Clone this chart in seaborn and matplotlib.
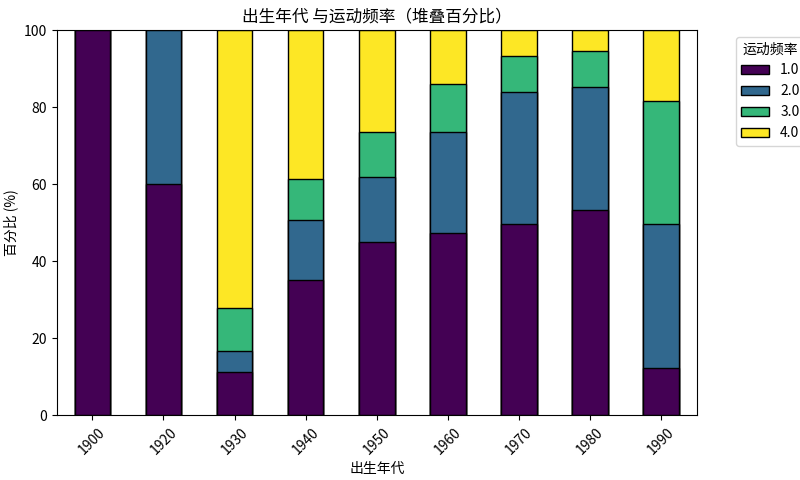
import numpy as np
import pandas as pd
import seaborn as sns
import matplotlib.pyplot as plt
from matplotlib.patches import Patch

plt.rcParams['font.family'] = ['Noto Sans CJK SC', 'DejaVu Sans']

decades = ['1900', '1920', '1930', '1940', '1950', '1960', '1970', '1980', '1990']
freq_labels = ['1.0', '2.0', '3.0', '4.0']
f1 = [100, 60, 11.1, 35.1, 45.0, 47.3, 49.6, 53.2, 12.2]
f2 = [0, 40, 5.6, 15.6, 16.8, 26.2, 34.3, 32.0, 37.4]
f3 = [0, 0, 11.1, 10.6, 11.7, 12.5, 9.3, 9.3, 32.0]
f4 = [0, 0, 72.2, 38.7, 26.5, 14.0, 6.8, 5.5, 18.4]

colors = ['#440154', '#31688e', '#35b779', '#fde725']
layers = [f1, f2, f3, f4]
cum = np.cumsum(np.array(layers), axis=0)

fig, ax = plt.subplots(figsize=(8, 4.8), dpi=100)
# draw cumulative totals from top layer down so lower layers overlay
for i in range(3, -1, -1):
    df = pd.DataFrame({'decade': decades, 'value': cum[i]})
    sns.barplot(data=df, x='decade', y='value', color=colors[i], width=0.5,
                edgecolor='black', linewidth=1, saturation=1, ax=ax)

ax.set_ylim(0, 100)
ax.set_title('出生年代 与运动频率（堆叠百分比）')
ax.set_xlabel('出生年代')
ax.set_ylabel('百分比 (%)')
plt.setp(ax.get_xticklabels(), rotation=45)
handles = [Patch(facecolor=c, edgecolor='black', label=l) for c, l in zip(colors, freq_labels)]
ax.legend(handles=handles, title='运动频率', bbox_to_anchor=(1.05, 1), loc='upper left')
plt.subplots_adjust(left=0.071, right=0.871, top=0.9375, bottom=0.135)
plt.savefig('out.png')
